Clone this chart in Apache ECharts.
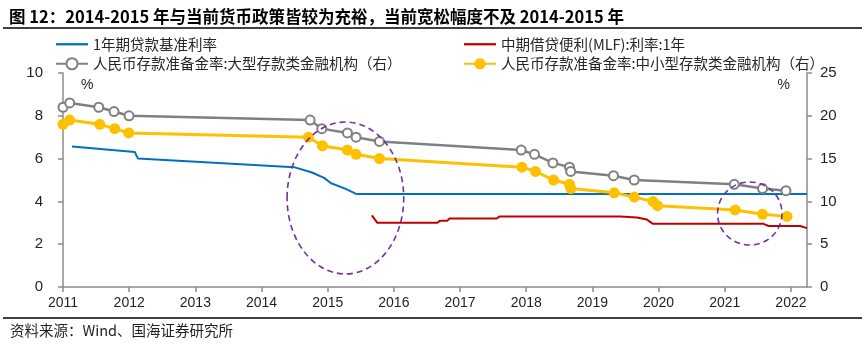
<!DOCTYPE html>
<html>
<head>
<meta charset="utf-8">
<script src="https://cdn.jsdelivr.net/npm/echarts@6/dist/echarts.min.js"></script>
<style>
html,body{margin:0;padding:0;background:#fff;}
#c{width:865px;height:354px;}
</style>
</head>
<body>
<div id="c"></div>
<script>
// ---- data (x in decimal years) ----
var xTickYears = [2011,2012,2013,2014,2015,2016,2017,2018,2019,2020,2021,2022];
var xMin = 2011, xMax = 2022.243;

var loanX = [2011.136, 2012.084, 2012.134, 2014.492, 2014.764, 2014.946, 2015.051, 2015.263, 2015.429, 2022.243];
var loanY = [6.56, 6.31, 6.00, 5.60, 5.35, 5.10, 4.85, 4.60, 4.35, 4.35];

var mlfX = [2015.667, 2015.751, 2016.658, 2016.699, 2016.810, 2016.840, 2017.556, 2017.596, 2019.420, 2019.673, 2019.824, 2019.915, 2021.587, 2021.662, 2022.141, 2022.243];
var mlfY = [3.35, 3.00, 3.00, 3.10, 3.10, 3.20, 3.20, 3.30, 3.30, 3.25, 3.15, 2.95, 2.95, 2.85, 2.85, 2.75];

var largeX = [2011.000, 2011.101, 2011.540, 2011.771, 2011.998, 2014.734, 2014.911, 2015.298, 2015.429, 2015.782, 2017.924, 2018.125, 2018.403, 2018.654, 2018.672, 2019.319, 2019.632, 2021.144, 2021.571, 2021.925];
var largeY = [21.0, 21.5, 21.0, 20.5, 20.0, 19.5, 18.5, 18.0, 17.5, 17.0, 16.0, 15.5, 14.5, 14.0, 13.5, 13.0, 12.5, 12.0, 11.5, 11.25];

var smallX = [2011.000, 2011.101, 2011.555, 2011.782, 2011.993, 2014.708, 2014.920, 2015.298, 2015.429, 2015.782, 2017.934, 2018.140, 2018.412, 2018.654, 2018.675, 2019.330, 2019.632, 2019.915, 2019.984, 2021.159, 2021.571, 2021.940];
var smallY = [19.0, 19.5, 19.0, 18.5, 18.0, 17.5, 16.5, 16.0, 15.5, 15.0, 14.0, 13.5, 12.5, 12.0, 11.5, 11.0, 10.5, 10.0, 9.5, 9.0, 8.5, 8.25];

var seriesNames = ['1年期贷款基准利率', '中期借贷便利(MLF):利率:1年', '人民币存款准备金率:大型存款类金融机构（右）', '人民币存款准备金率:中小型存款类金融机构（右）'];

// annotation ellipses: [xLeft, xRight, yTop, yBottom] on left-axis scale
var ellipses = [
  [2014.386, 2016.149, 7.71, 0.61],
  [2020.891, 2021.865, 4.91, 1.96]
];

var titleText = '图 12：2014-2015 年与当前货币政策皆较为充裕，当前宽松幅度不及 2014-2015 年';
var sourceText = '资料来源：Wind、国海证券研究所';

function zip(xs, ys) { return xs.map(function (x, i) { return [x, ys[i]]; }); }

var CJK = '"Noto Sans CJK SC", sans-serif';
var LAT = '"Liberation Sans", Arial, sans-serif';
var axisColor = '#8c8c8c';
var labelColor = '#1f1f1f';
var lineIcon = 'path://M0,0 L64,0 L64,4.5 L0,4.5 Z';
var legendText = {fontFamily: CJK, fontSize: 14.5, color: '#262626'};

var chart = echarts.init(document.getElementById('c'), null, {renderer: 'canvas'});
var option = {
  backgroundColor: '#fff',
  animation: false,
  title: {
    text: titleText, left: 4, top: 3,
    textStyle: {fontFamily: CJK, fontWeight: 'bold', fontSize: 16.5, color: '#000'}
  },
  legend: [{
    data: [{name: seriesNames[0], icon: lineIcon}, {name: seriesNames[2]}],
    orient: 'vertical', left: 50, top: 32, itemGap: 5,
    itemWidth: 32, itemHeight: 14, textStyle: legendText
  }, {
    data: [{name: seriesNames[1], icon: lineIcon}, {name: seriesNames[3]}],
    orient: 'vertical', left: 458, top: 32, itemGap: 5,
    itemWidth: 32, itemHeight: 14, textStyle: legendText
  }],
  grid: {left: 63, right: 58, top: 73, bottom: 67, containLabel: false},
  xAxis: {
    type: 'value', min: xMin, max: xMax, interval: 1,
    axisLine: {show: true, lineStyle: {color: axisColor, width: 1.5}},
    axisTick: {show: true, length: 5, lineStyle: {color: axisColor, width: 1.5},
      customValues: xTickYears},
    axisLabel: {fontFamily: LAT, fontSize: 14, color: labelColor, margin: 9,
      customValues: xTickYears,
      formatter: function (v) { return String(Math.round(v)); }},
    splitLine: {show: false}
  },
  yAxis: [{
    type: 'value', min: 0, max: 10, interval: 2, position: 'left',
    name: '%', nameLocation: 'end', nameGap: -19,
    nameTextStyle: {fontFamily: LAT, fontSize: 14, color: labelColor, align: 'left', padding: [0, 0, 0, 18]},
    axisLine: {show: true, lineStyle: {color: axisColor, width: 1.5}},
    axisTick: {show: true, length: 5, lineStyle: {color: axisColor, width: 1.5}},
    axisLabel: {fontFamily: LAT, fontSize: 15, color: labelColor, margin: 20},
    splitLine: {show: false}
  }, {
    type: 'value', min: 0, max: 25, interval: 5, position: 'right',
    name: '%', nameLocation: 'end', nameGap: -19,
    nameTextStyle: {fontFamily: LAT, fontSize: 14, color: labelColor, align: 'right', padding: [0, 17, 0, 0]},
    axisLine: {show: true, lineStyle: {color: axisColor, width: 1.5}},
    axisTick: {show: true, length: 5, lineStyle: {color: axisColor, width: 1.5}},
    axisLabel: {fontFamily: LAT, fontSize: 15, color: labelColor, margin: 13},
    splitLine: {show: false}
  }],
  series: [{
    name: seriesNames[0], type: 'line', yAxisIndex: 0,
    data: zip(loanX, loanY), showSymbol: false, symbol: 'none',
    lineStyle: {color: '#0070C0', width: 2}, itemStyle: {color: '#0070C0'}, z: 2
  }, {
    name: seriesNames[1], type: 'line', yAxisIndex: 0,
    data: zip(mlfX, mlfY), showSymbol: false, symbol: 'none',
    lineStyle: {color: '#C00000', width: 2}, itemStyle: {color: '#C00000'}, z: 3
  }, {
    name: seriesNames[2], type: 'line', yAxisIndex: 1,
    data: zip(largeX, largeY), symbol: 'emptyCircle', symbolSize: 9, showAllSymbol: true,
    lineStyle: {color: '#808080', width: 2.5},
    itemStyle: {color: '#808080', borderWidth: 2}, z: 4
  }, {
    name: seriesNames[3], type: 'line', yAxisIndex: 1,
    data: zip(smallX, smallY), symbol: 'circle', symbolSize: 11, showAllSymbol: true,
    lineStyle: {color: '#FFC000', width: 3},
    itemStyle: {color: '#FFC000'}, z: 5
  }]
};
chart.setOption(option);

// decorations + annotation ellipses positioned via the axes
var graphics = [
  {type: 'line', shape: {x1: 3, y1: 28, x2: 862, y2: 28}, style: {stroke: '#000', lineWidth: 1.5}, z: 100},
  {type: 'line', shape: {x1: 3, y1: 318, x2: 862, y2: 318}, style: {stroke: '#000', lineWidth: 1.5}, z: 100},
  {type: 'text', left: 10, top: 323, style: {text: sourceText, font: '14.5px ' + CJK, fill: '#1f1f1f'}, z: 100}
];
ellipses.forEach(function (e) {
  var p1 = chart.convertToPixel({xAxisIndex: 0, yAxisIndex: 0}, [e[0], e[2]]);
  var p2 = chart.convertToPixel({xAxisIndex: 0, yAxisIndex: 0}, [e[1], e[3]]);
  graphics.push({
    type: 'ellipse',
    shape: {cx: (p1[0] + p2[0]) / 2, cy: (p1[1] + p2[1]) / 2, rx: Math.abs(p2[0] - p1[0]) / 2, ry: Math.abs(p2[1] - p1[1]) / 2},
    style: {fill: 'none', stroke: '#7030A0', lineWidth: 1.6, lineDash: [6, 4]},
    z: 50
  });
});
chart.setOption({graphic: graphics});
</script>
</body>
</html>
